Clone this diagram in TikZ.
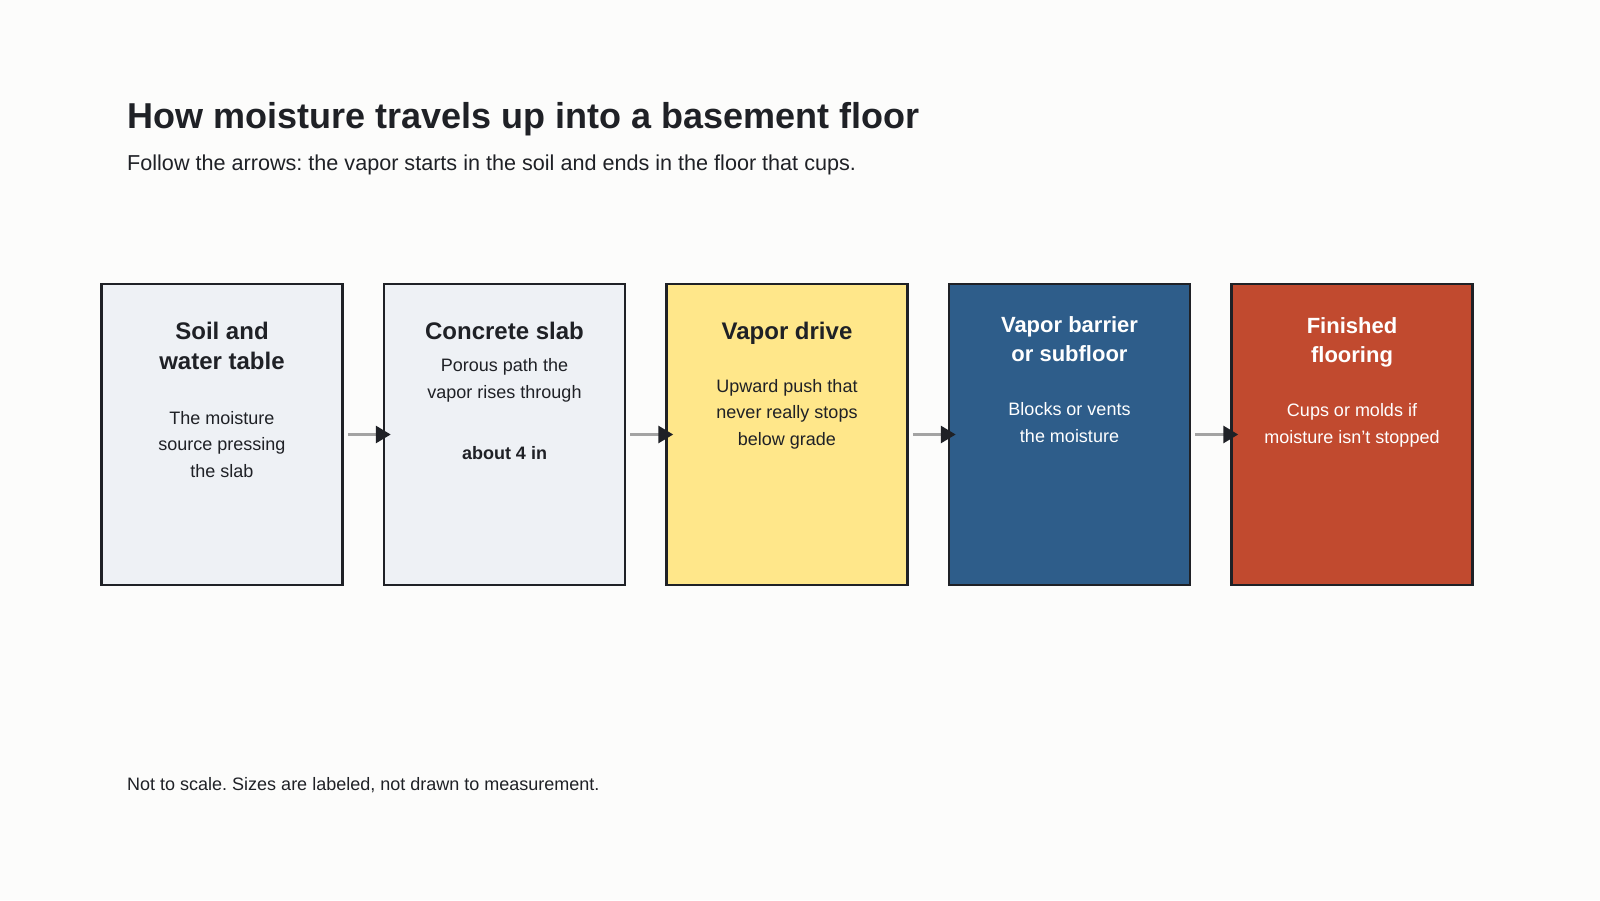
\documentclass[tikz,border=0pt]{standalone}
\usepackage{fontspec}
\setmainfont{Liberation Sans}
\usetikzlibrary{arrows.meta}
\frenchspacing
\definecolor{bg}{HTML}{FCFCFB}
\definecolor{ink}{HTML}{1F2126}
\definecolor{pale}{HTML}{EEF1F5}
\definecolor{sun}{HTML}{FFE78A}
\definecolor{navy}{HTML}{2E5D8A}
\definecolor{brick}{HTML}{C14A2F}
\definecolor{linkgray}{HTML}{A3A3A3}
\tikzset{
  stage/.style={draw=ink, line width=2.5pt, minimum width=241pt, minimum height=301pt, inner sep=0pt},
  head/.style={anchor=base, align=center, font=\fontsize{24}{30}\selectfont\bfseries, inner sep=0pt},
  headsm/.style={anchor=base, align=center, font=\fontsize{22}{28.5}\selectfont\bfseries, inner sep=0pt},
  body/.style={anchor=base, align=center, font=\fontsize{18}{26.3}\selectfont, inner sep=0pt},
  link/.style={draw=linkgray, line width=3pt, -{Triangle[length=15pt,width=17pt,color=ink,fill=ink]}},
}
\begin{document}
\begin{tikzpicture}[x=1pt,y=-1pt]
\fill[bg] (0,0) rectangle (1600,900);
\useasboundingbox (0,0) rectangle (1600,900);
% title
\node[anchor=base west, inner sep=0pt, text=ink, font=\fontsize{36}{40}\selectfont\bfseries] (title) at (127,128) {How moisture travels up into a basement floor};
\node[anchor=base west, inner sep=0pt, text=ink, font=\fontsize{21.6}{25}\selectfont] (sub) at (127,170) {Follow the arrows: the vapor starts in the soil and ends in the floor that cups.};
% boxes
\node[stage, fill=pale]  (b1) at (222,434.5) {};
\node[stage, fill=pale]  (b2) at (504.5,434.5) {};
\node[stage, fill=sun]   (b3) at (787,434.5) {};
\node[stage, fill=navy]  (b4) at (1069.5,434.5) {};
\node[stage, fill=brick] (b5) at (1352,434.5) {};
% box texts (anchor = baseline of last line)
\node[head, text=ink] (t1) at (222,369) {Soil and\\water table};
\node[body, text=ink] (d1) at (222,477) {The moisture\\source pressing\\the slab};
\node[head, text=ink] (t2) at (504.5,339) {Concrete slab};
\node[body, text=ink] (d2) at (504.5,398) {Porous path the\\vapor rises through};
\node[body, text=ink, font=\fontsize{18}{26}\selectfont\bfseries] (m2) at (504.5,459) {about 4 in};
\node[head, text=ink] (t3) at (787,339) {Vapor drive};
\node[body, text=ink] (d3) at (787,445) {Upward push that\\never really stops\\below grade};
\node[headsm, text=white] (t4) at (1069.5,361) {Vapor barrier\\or subfloor};
\node[body, text=white] (d4) at (1069.5,442) {Blocks or vents\\the moisture};
\node[headsm, text=white] (t5) at (1352,362) {Finished\\flooring};
\node[body, text=white] (d5) at (1352,443) {Cups or molds if\\moisture isn't stopped};
% connectors
\draw[link] ([xshift=4pt]b1.east) -- ([xshift=8pt]b2.west);
\draw[link] ([xshift=4pt]b2.east) -- ([xshift=8pt]b3.west);
\draw[link] ([xshift=4pt]b3.east) -- ([xshift=8pt]b4.west);
\draw[link] ([xshift=4pt]b4.east) -- ([xshift=8pt]b5.west);
% footer
\node[anchor=base west, inner sep=0pt, text=ink, font=\fontsize{18}{22}\selectfont] (foot) at (127,790) {Not to scale. Sizes are labeled, not drawn to measurement.};
\end{tikzpicture}
\end{document}
